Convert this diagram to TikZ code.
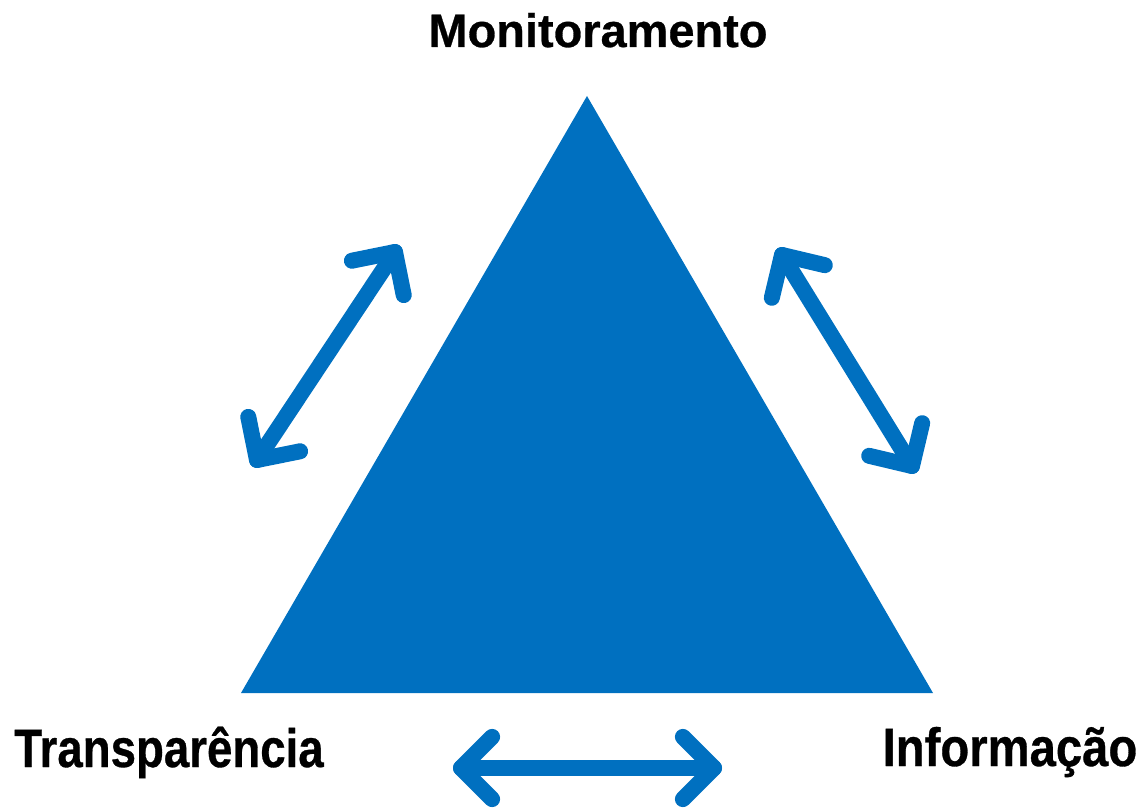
\documentclass[tikz,border=0pt]{standalone}
\usepackage{fontspec}
\setmainfont{Liberation Sans}[BoldFeatures={FakeBold=0.6}]
\usepackage{graphicx}
\usetikzlibrary{calc}
\definecolor{tblue}{HTML}{0070C0}
\tikzset{
  dblline/.style={draw=tblue, line width=12pt, line cap=round, line join=round},
  lbl/.style={inner sep=0pt, anchor=base, text=black},
  bigfont/.style={font=\bfseries\fontsize{40.5}{41}\selectfont},
  topfont/.style={font=\bfseries\fontsize{35.2}{36}\selectfont},
}
\newcommand\mydblarrow[2]{%
  \draw[dblline] (#1) -- (#2);
  \draw[dblline] ($(#1)!33pt!45:(#2)$) -- (#1) -- ($(#1)!33pt!-45:(#2)$);
  \draw[dblline] ($(#2)!33pt!45:(#1)$) -- (#2) -- ($(#2)!33pt!-45:(#1)$);
}
\begin{document}
\begin{tikzpicture}[x=0.75pt,y=-0.75pt]
\useasboundingbox (0,0) rectangle (1140,809);
\fill[tblue] (587,96) -- (933,693) -- (241,693) -- cycle;
\node[lbl,topfont] (mon) at (598,47) {Monitoramento};
\node[lbl,bigfont] (trans) at (169,767) {\scalebox{0.845}[1]{Transparência}};
\node[lbl,bigfont] (info) at (1010,766) {\scalebox{0.875}[1]{Informação}};
\coordinate (la) at (257,460);
\coordinate (lb) at (395,252);
\coordinate (ra) at (782,255);
\coordinate (rb) at (912,466);
\coordinate (ba) at (461,768);
\coordinate (bb) at (714,768);
\mydblarrow{la}{lb}
\mydblarrow{ra}{rb}
\mydblarrow{ba}{bb}
\end{tikzpicture}
\end{document}
